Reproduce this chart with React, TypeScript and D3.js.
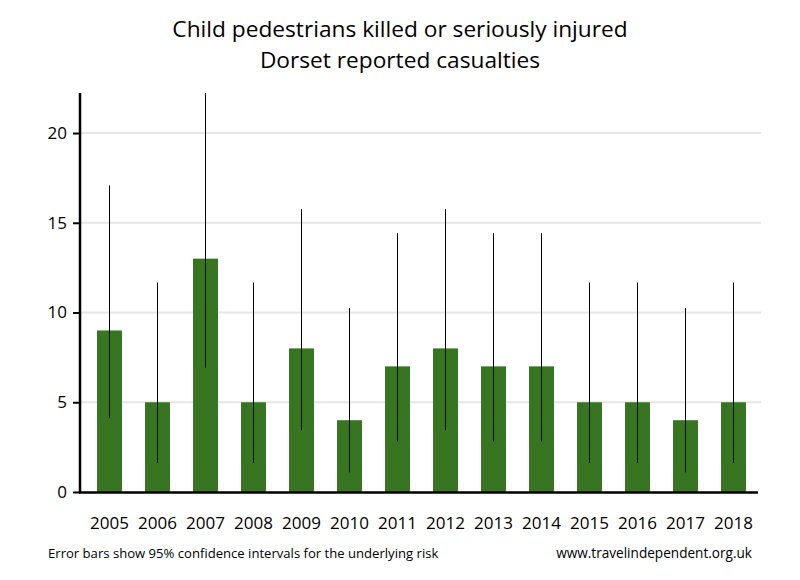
import React, { useEffect, useRef } from "react";
import * as d3 from "d3";

const years = ["2005", "2006", "2007", "2008", "2009", "2010", "2011", "2012", "2013", "2014", "2015", "2016", "2017", "2018"];
const casualties = [9, 5, 13, 5, 8, 4, 7, 8, 7, 7, 5, 5, 4, 5];
const ciLow = [4.12, 1.62, 6.92, 1.62, 3.45, 1.09, 2.81, 3.45, 2.81, 2.81, 1.62, 1.62, 1.09, 1.62];
const ciHigh = [17.08, 11.67, 22.23, 11.67, 15.76, 10.24, 14.42, 15.76, 14.42, 14.42, 11.67, 11.67, 10.24, 11.67];
const yTicks = [0, 5, 10, 15, 20];
const titleLines = ["Child pedestrians killed or seriously injured", "Dorset reported casualties"];

const FONT = "'Open Sans', sans-serif";

export default function App() {
  const ref = useRef<SVGSVGElement>(null);

  useEffect(() => {
    const width = 800;
    const height = 580;
    const svg = d3.select(ref.current);
    svg.selectAll("*").remove();

    const x = d3.scaleBand<string>().domain(years).range([85.5, 757.5]).padding(0);
    const y = d3.scaleLinear().domain([0, 22.23]).range([492, 93]);
    const barW = x.bandwidth() * 0.52;

    svg.append("rect").attr("width", width).attr("height", height).attr("fill", "#fff");

    // title
    svg.append("g")
      .selectAll("text")
      .data(titleLines)
      .join("text")
        .attr("x", 400)
        .attr("y", (d, i) => 37 + i * 31)
        .attr("text-anchor", "middle")
        .attr("font-family", FONT)
        .attr("font-size", 22.7)
        .attr("fill", "#000")
        .text(d => d);

    // gridlines
    svg.append("g")
      .selectAll("line")
      .data(yTicks.filter(t => t > 0))
      .join("line")
        .attr("x1", 80)
        .attr("x2", 761)
        .attr("y1", d => y(d))
        .attr("y2", d => y(d))
        .attr("stroke", "#e6e6e6")
        .attr("stroke-width", 2);

    // bars
    svg.append("g")
      .selectAll("rect")
      .data(casualties)
      .join("rect")
        .attr("x", (d, i) => x(years[i])! + x.bandwidth() / 2 - barW / 2)
        .attr("y", d => y(d))
        .attr("width", barW)
        .attr("height", d => y(0) - y(d))
        .attr("fill", "#377520");

    // error bars
    svg.append("g")
      .selectAll("line")
      .data(years)
      .join("line")
        .attr("x1", d => x(d)! + x.bandwidth() / 2)
        .attr("x2", d => x(d)! + x.bandwidth() / 2)
        .attr("y1", (d, i) => y(ciLow[i]))
        .attr("y2", (d, i) => y(ciHigh[i]))
        .attr("stroke", "#000")
        .attr("stroke-width", 1);

    // y axis
    const yAxis = svg.append("g").attr("transform", "translate(80,0)")
      .call(d3.axisLeft(y).tickValues(yTicks).tickSize(7).tickPadding(6));
    yAxis.select(".domain").remove();
    yAxis.selectAll(".tick line").attr("stroke", "#000").attr("stroke-width", 2);
    yAxis.selectAll(".tick text")
      .attr("font-family", FONT)
      .attr("font-size", 17)
      .attr("fill", "#000");

    svg.append("line")
      .attr("x1", 80).attr("x2", 80)
      .attr("y1", 93).attr("y2", 493)
      .attr("stroke", "#000").attr("stroke-width", 2.5);

    // x axis
    const xAxis = svg.append("g").attr("transform", "translate(0,492)")
      .call(d3.axisBottom(x).tickSize(0).tickPadding(25));
    xAxis.select(".domain").remove();
    xAxis.selectAll(".tick text")
      .attr("font-family", FONT)
      .attr("font-size", 17)
      .attr("fill", "#000");

    svg.append("line")
      .attr("x1", 79).attr("x2", 758)
      .attr("y1", 492.5).attr("y2", 492.5)
      .attr("stroke", "#000").attr("stroke-width", 2.5);

    // footer
    svg.append("text")
      .attr("x", 48).attr("y", 558)
      .attr("font-family", FONT).attr("font-size", 13.1)
      .attr("fill", "#000")
      .text("Error bars show 95% confidence intervals for the underlying risk");
    svg.append("text")
      .attr("x", 752).attr("y", 558)
      .attr("text-anchor", "end")
      .attr("font-family", FONT).attr("font-size", 13.6)
      .attr("fill", "#000")
      .text("www.travelindependent.org.uk");
  }, []);

  return (
    <svg ref={ref} width={800} height={580} style={{ position: "absolute", left: 0, top: 0 }} />
  );
}
